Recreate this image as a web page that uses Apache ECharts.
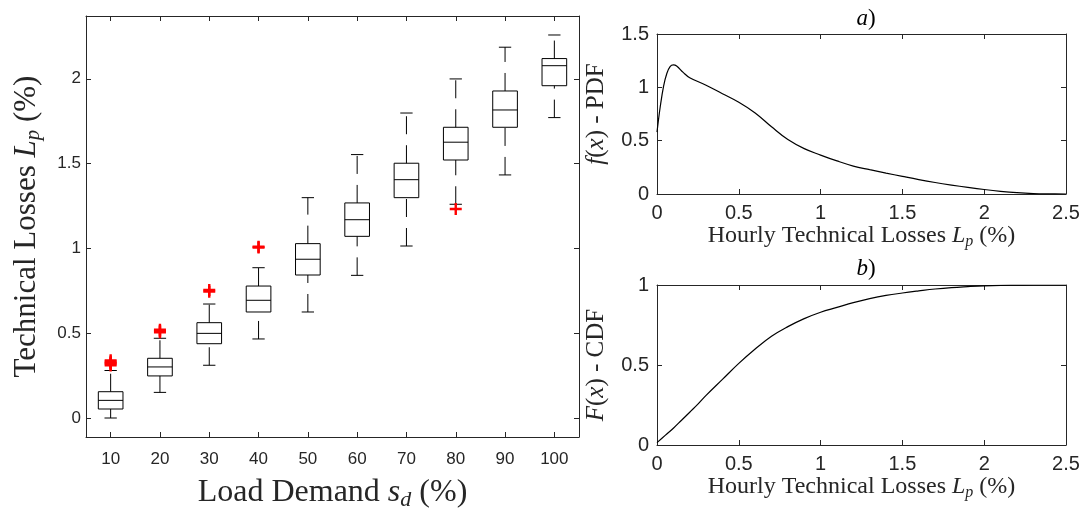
<!DOCTYPE html>
<html>
<head>
<meta charset="utf-8">
<script src="https://cdn.jsdelivr.net/npm/echarts@6/dist/echarts.min.js"></script>
<style>
  html, body { margin: 0; padding: 0; background: #fff; }
  #chart { width: 1086px; height: 509px; }
</style>
</head>
<body>
<div id="chart"></div>
<script>
// Box plot: load demand levels and their statistics (Lp in %)
const loadDemand = ['10', '20', '30', '40', '50', '60', '70', '80', '90', '100'];
const whiskerLow  = [0.0,   0.151, 0.311, 0.466, 0.625, 0.841, 1.014, 1.26,  1.433, 1.771];
const quart1      = [0.053, 0.248, 0.438, 0.625, 0.843, 1.071, 1.299, 1.521, 1.714, 1.959];
const median      = [0.104, 0.301, 0.499, 0.694, 0.936, 1.169, 1.405, 1.626, 1.816, 2.077];
const quart3      = [0.155, 0.352, 0.562, 0.778, 1.028, 1.268, 1.502, 1.714, 1.928, 2.119];
const whiskerHigh = [0.28,  0.47,  0.672, 0.886, 1.299, 1.553, 1.798, 1.999, 2.186, 2.258];
const outliers = [
  ['10', 0.31], ['10', 0.318], ['10', 0.325], ['10', 0.332], ['10', 0.34],
  ['20', 0.505], ['20', 0.513], ['20', 0.52],
  ['30', 0.745], ['30', 0.755],
  ['40', 1.005], ['40', 1.01],
  ['80', 1.232]
];

// PDF of hourly technical losses
const pdfX = [0, 0.02, 0.04, 0.06, 0.08, 0.1, 0.12, 0.16, 0.2, 0.3, 0.4, 0.5, 0.6, 0.7, 0.8, 0.9,
              1.0, 1.1, 1.2, 1.3, 1.4, 1.5, 1.6, 1.7, 1.8, 1.9, 2.0, 2.1, 2.2, 2.3, 2.4, 2.5];
const pdfY = [0.58, 0.82, 1.01, 1.13, 1.195, 1.21, 1.2, 1.14, 1.09, 1.02, 0.94, 0.86, 0.76, 0.63, 0.51, 0.425,
              0.365, 0.31, 0.262, 0.228, 0.196, 0.165, 0.135, 0.108, 0.084, 0.062, 0.042, 0.025, 0.012, 0.004, 0.001, 0.0];

// CDF of hourly technical losses
const cdfX = [0, 0.05, 0.1, 0.15, 0.2, 0.25, 0.3, 0.4, 0.5, 0.6, 0.7, 0.8, 0.9, 1.0, 1.1, 1.2, 1.3,
              1.4, 1.5, 1.6, 1.7, 1.8, 1.9, 2.0, 2.1, 2.2, 2.3, 2.4, 2.5];
const cdfY = [0.015, 0.06, 0.105, 0.155, 0.205, 0.255, 0.31, 0.41, 0.51, 0.60, 0.68, 0.74, 0.79, 0.83, 0.86,
              0.89, 0.915, 0.935, 0.95, 0.963, 0.975, 0.984, 0.99, 0.995, 0.998, 0.999, 1.0, 1.0, 1.0];

const axisColor = '#262626';
const sans = 'Liberation Sans';
const serif = 'Liberation Serif';

function richName(size) {
  return {
    n: { fontFamily: serif, fontSize: size, lineHeight: size + 4, color: axisColor },
    i: { fontFamily: serif, fontSize: size, fontStyle: 'italic', lineHeight: size + 4, color: axisColor },
    s: { fontFamily: serif, fontSize: Math.round(size * 0.68), fontStyle: 'italic', lineHeight: Math.round(size * 0.5), verticalAlign: 'bottom', color: axisColor }
  };
}

const boxData = loadDemand.map((c, i) => [i, whiskerLow[i], quart1[i], median[i], quart3[i], whiskerHigh[i]]);

function renderBox(params, api) {
  const x = api.value(0);
  const lo = api.coord([x, api.value(1)]);
  const q1 = api.coord([x, api.value(2)]);
  const md = api.coord([x, api.value(3)]);
  const q3 = api.coord([x, api.value(4)]);
  const hi = api.coord([x, api.value(5)]);
  const bw = api.size([1, 0])[0] * 0.5;
  const cx = lo[0];
  const solid = { stroke: '#000', lineWidth: 1, fill: null };
  const dashed = { stroke: '#000', lineWidth: 1, lineDash: [18, 11], fill: null };
  return {
    type: 'group',
    children: [
      { type: 'line', shape: { x1: cx, y1: lo[1], x2: cx, y2: q1[1] }, style: dashed },
      { type: 'line', shape: { x1: cx, y1: q3[1], x2: cx, y2: hi[1] }, style: dashed },
      { type: 'line', shape: { x1: cx - bw / 4, y1: lo[1], x2: cx + bw / 4, y2: lo[1] }, style: solid },
      { type: 'line', shape: { x1: cx - bw / 4, y1: hi[1], x2: cx + bw / 4, y2: hi[1] }, style: solid },
      { type: 'rect', shape: { x: cx - bw / 2, y: q3[1], width: bw, height: q1[1] - q3[1] }, style: { stroke: '#000', lineWidth: 1, fill: 'none' } },
      { type: 'line', shape: { x1: cx - bw / 2, y1: md[1], x2: cx + bw / 2, y2: md[1] }, style: solid }
    ]
  };
}

const lineCommon = { show: true, onZero: false, lineStyle: { color: axisColor, width: 1 } };
const tickIn = { show: true, inside: true, length: 5, lineStyle: { color: axisColor } };

function valueX(grid, pos, labels) {
  return {
    type: 'value', gridIndex: grid, position: pos, min: 0, max: 2.5, interval: 0.5,
    axisLine: lineCommon, axisTick: tickIn, splitLine: { show: false },
    axisLabel: { show: labels, color: axisColor, fontFamily: sans, fontSize: 20, margin: 9 }
  };
}
function valueY(grid, pos, max, labels) {
  return {
    type: 'value', gridIndex: grid, position: pos, min: 0, max: max, interval: 0.5,
    axisLine: lineCommon, axisTick: tickIn, splitLine: { show: false },
    axisLabel: { show: labels, color: axisColor, fontFamily: sans, fontSize: 20, margin: 8 }
  };
}

const xLabelName = '{n|Hourly Technical Losses }{i|L}{s|p}{n| (%)}';
const titleRich = {
  i: { fontFamily: serif, fontStyle: 'italic', fontWeight: 'normal', fontSize: 23, color: '#000' },
  n: { fontFamily: serif, fontWeight: 'normal', fontSize: 23, color: '#000' }
};

const option = {
  animation: false,
  backgroundColor: '#fff',
  title: [
    { text: '{i|a}{n|)}', left: 861, top: 2, textAlign: 'center', textStyle: { fontWeight: 'normal', rich: titleRich } },
    { text: '{i|b}{n|)}', left: 861, top: 252, textAlign: 'center', textStyle: { fontWeight: 'normal', rich: titleRich } }
  ],
  grid: [
    { left: 86, top: 16, width: 493, height: 421, outerBoundsMode: 'none', containLabel: false },
    { left: 657, top: 34, width: 409, height: 160, outerBoundsMode: 'none', containLabel: false },
    { left: 657, top: 285, width: 409, height: 160, outerBoundsMode: 'none', containLabel: false }
  ],
  xAxis: [
    {
      type: 'category', gridIndex: 0, position: 'bottom', data: loadDemand, boundaryGap: true,
      axisLine: lineCommon, axisTick: Object.assign({ alignWithLabel: true }, tickIn), splitLine: { show: false },
      axisLabel: { color: axisColor, fontFamily: sans, fontSize: 17, margin: 14 },
      name: '{n|Load Demand }{i|s}{s|d}{n| (%)}', nameLocation: 'middle', nameGap: 38,
      nameTextStyle: { rich: richName(32) }
    },
    {
      type: 'category', gridIndex: 0, position: 'top', data: loadDemand, boundaryGap: true,
      axisLine: lineCommon, axisTick: Object.assign({ alignWithLabel: true }, tickIn),
      axisLabel: { show: false }, splitLine: { show: false }
    },
    Object.assign(valueX(1, 'bottom', true), { name: xLabelName, nameLocation: 'middle', nameGap: 26, nameTextStyle: { rich: richName(24) } }),
    valueX(1, 'top', false),
    Object.assign(valueX(2, 'bottom', true), { name: xLabelName, nameLocation: 'middle', nameGap: 26, nameTextStyle: { rich: richName(24) } }),
    valueX(2, 'top', false)
  ],
  yAxis: [
    {
      type: 'value', gridIndex: 0, position: 'left', min: -0.112, max: 2.37, splitNumber: 5,
      axisLine: lineCommon, axisTick: tickIn, splitLine: { show: false },
      axisLabel: {
        color: axisColor, fontFamily: sans, fontSize: 17, margin: 5, showMinLabel: false, showMaxLabel: false,
        formatter: v => (Math.abs(v * 2 - Math.round(v * 2)) < 1e-6 ? String(v) : '')
      },
      name: '{n|Technical Losses }{i|L}{s|p}{n| (%)}', nameLocation: 'middle', nameGap: 42,
      nameTextStyle: { rich: richName(31) }
    },
    {
      type: 'value', gridIndex: 0, position: 'right', min: -0.112, max: 2.37, splitNumber: 5,
      axisLine: lineCommon, axisTick: tickIn, splitLine: { show: false }, axisLabel: { show: false }
    },
    Object.assign(valueY(1, 'left', 1.5, true), {
      name: '{i|f}{n|(}{i|x}{n|) - PDF}', nameLocation: 'middle', nameGap: 46, nameTextStyle: { rich: richName(25) }
    }),
    valueY(1, 'right', 1.5, false),
    Object.assign(valueY(2, 'left', 1, true), {
      name: '{i|F}{n|(}{i|x}{n|) - CDF}', nameLocation: 'middle', nameGap: 46, nameTextStyle: { rich: richName(25) }
    }),
    valueY(2, 'right', 1, false)
  ],
  series: [
    {
      type: 'custom', xAxisIndex: 0, yAxisIndex: 0, data: boxData,
      encode: { x: 0, y: [1, 2, 3, 4, 5] }, renderItem: renderBox, silent: true
    },
    {
      type: 'scatter', xAxisIndex: 0, yAxisIndex: 0, data: outliers,
      symbol: 'path://M4,0H6V4H10V6H6V10H4V6H0V4H4Z', symbolSize: 12,
      itemStyle: { color: '#ff0000', opacity: 1 }, silent: true
    },
    {
      type: 'line', xAxisIndex: 2, yAxisIndex: 2, data: pdfX.map((x, i) => [x, pdfY[i]]),
      smooth: 0.4, symbol: 'none', lineStyle: { color: '#000', width: 1.2 }, silent: true
    },
    {
      type: 'line', xAxisIndex: 4, yAxisIndex: 4, data: cdfX.map((x, i) => [x, cdfY[i]]),
      smooth: 0.4, symbol: 'none', lineStyle: { color: '#000', width: 1.2 }, silent: true
    }
  ]
};

let chart = echarts.init(document.getElementById('chart'));
chart.setOption(option);
</script>
</body>
</html>
